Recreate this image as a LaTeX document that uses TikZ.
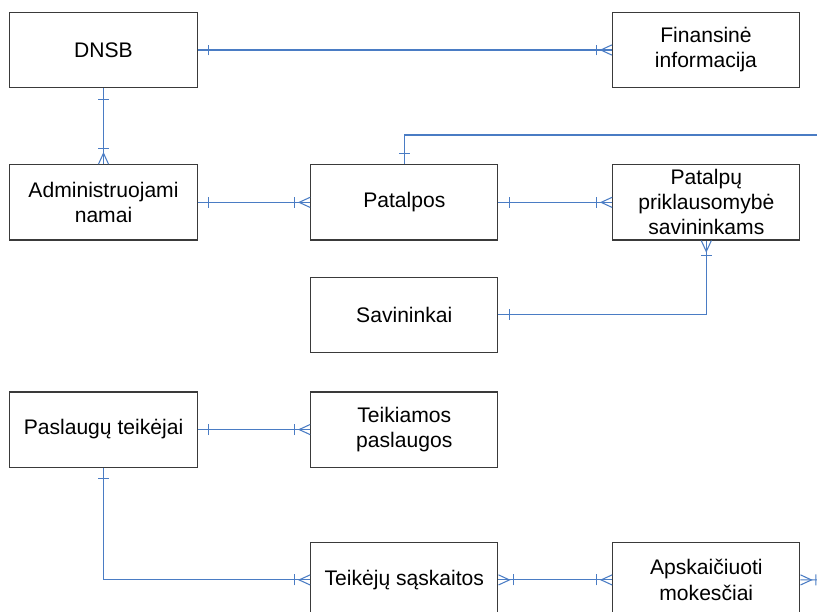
\documentclass[tikz,border=0pt]{standalone}
\usepackage{fontspec}
\setmainfont{Liberation Sans}
\usetikzlibrary{positioning,decorations.markings}
\definecolor{relblue}{HTML}{4A7CC4}
\definecolor{boxgray}{HTML}{3A3A3A}
\tikzset{
  entity/.style={draw=boxgray,line width=0.8pt,fill=white,minimum width=4.68cm,minimum height=1.88cm,
    align=center,inner sep=1pt,font=\fontsize{15pt}{17.8pt}\selectfont},
  rel/.style={draw=relblue,line width=0.75pt},
  tick/.style={relblue,line width=0.75pt},
  onestart/.style={postaction={decorate,decoration={markings,
    mark=at position 7.8pt with {\draw[tick] (0,-3.9pt) -- (0,3.9pt);}}}},
  oneend/.style={postaction={decorate,decoration={markings,
    mark=at position -7.8pt with {\draw[tick] (0,-3.9pt) -- (0,3.9pt);}}}},
  manystart/.style={postaction={decorate,decoration={markings,
    mark=at position 7.8pt with {\draw[tick] (-7.8pt,-3.6pt) -- (0,0) -- (-7.8pt,3.6pt);},
    mark=at position 10.9pt with {\draw[tick] (0,-3.9pt) -- (0,3.9pt);}}}},
  manyend/.style={postaction={decorate,decoration={markings,
    mark=at position -10.9pt with {\draw[tick] (0,-3.9pt) -- (0,3.9pt);},
    mark=at position -7.8pt with {\draw[tick] (7.8pt,-3.6pt) -- (0,0) -- (7.8pt,3.6pt);}}}},
}
\begin{document}
\begin{tikzpicture}[x=0.025cm,y=-0.025cm]
		\path[use as bounding box,clip] (0,0) rectangle (817,612);
		% entities
		\node[entity] (dnsb) at (103.5,50) {DNSB};
		\node[entity,right=10.35cm of dnsb] (fin) {Finansinė\\informacija};
		\node[entity,below=1.9cm of dnsb] (admin) {Administruojami\\namai};
		\node[entity,right=2.81cm of admin] (patalpos) {Patalpos};
		\node[entity,right=2.84cm of patalpos] (prikl) {Patalpų\\priklausomybė\\savininkams};
		\node[entity,below=0.905cm of patalpos] (savin) {Savininkai};
		\node[entity,below=3.77cm of admin] (teikejai) {Paslaugų teikėjai};
		\node[entity,right=2.81cm of teikejai] (paslaugos) {Teikiamos\\paslaugos};
		\node[entity,below=1.85cm of paslaugos] (saskaitos) {Teikėjų sąskaitos};
		\node[entity,right=2.84cm of saskaitos] (mokesciai) {Apskaičiuoti\\mokesčiai};
		\coordinate (outtop) at (840,135);
		\coordinate (outbot) at (850,580);
		% relations
		\draw[rel,onestart,manyend] (dnsb) -- (fin);
		\draw[rel,onestart,manyend] (dnsb) -- (admin);
		\draw[rel,onestart,manyend] (admin) -- (patalpos);
		\draw[rel,onestart,manyend] (patalpos) -- (prikl);
		\draw[rel,manystart,oneend] (prikl.south) |- (savin.east);
		\draw[rel,onestart] (patalpos.north) |- (outtop);
		\draw[rel,onestart,manyend] (teikejai) -- (paslaugos);
		\draw[rel,onestart,manyend] (teikejai.south) |- (saskaitos.west);
		\draw[rel,manystart,manyend] (saskaitos) -- (mokesciai);
		\draw[rel,manystart] (mokesciai.east) -- (outbot);
	\end{tikzpicture}
\end{document}
